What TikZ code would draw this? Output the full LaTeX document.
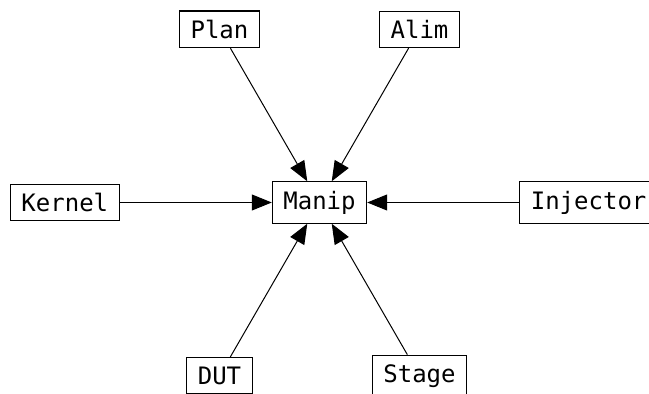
\documentclass[tikz,border=0pt]{standalone}
\usepackage{fontspec}
\setmonofont{DejaVu Sans Mono}
\usetikzlibrary{positioning,arrows.meta}

\tikzset{
  unitbox/.style={
    rectangle, draw=black, line width=0.6pt, fill=white,
    inner xsep=5.5pt, inner ysep=4.5pt,
    font=\ttfamily\fontsize{12}{14}\selectfont
  },
  feed/.style={-{Triangle[length=10pt,width=8pt]}, line width=0.5pt}
}

\begin{document}
\begin{tikzpicture}[x=0.5pt,y=-0.5pt]
\clip (0,0) rectangle (649,394);

%% -- hub ---------------------------------------------------------
\node[unitbox] (manip) at (319.5,202.5) {Manip};

%% -- side units --------------------------------------------------
\node[unitbox, left=76pt of manip]  (kernel)   {Kernel};
\node[unitbox, right=76pt of manip] (injector) {Injector};

%% -- diagonal units ----------------------------------------------
\node[unitbox] (plan)  at ([shift={(120:100pt)}]manip.center) {Plan};
\node[unitbox] (alim)  at ([shift={(60:100pt)}]manip.center)  {Alim};
\node[unitbox] (dut)   at ([shift={(240:100pt)}]manip.center) {DUT};
\node[unitbox] (stage) at ([shift={(300:100pt)}]manip.center) {Stage};

%% -- connectors --------------------------------------------------
\foreach \src in {plan,alim,kernel,injector,dut,stage}
  \draw[feed] (\src) -- (manip);
\end{tikzpicture}
\end{document}
